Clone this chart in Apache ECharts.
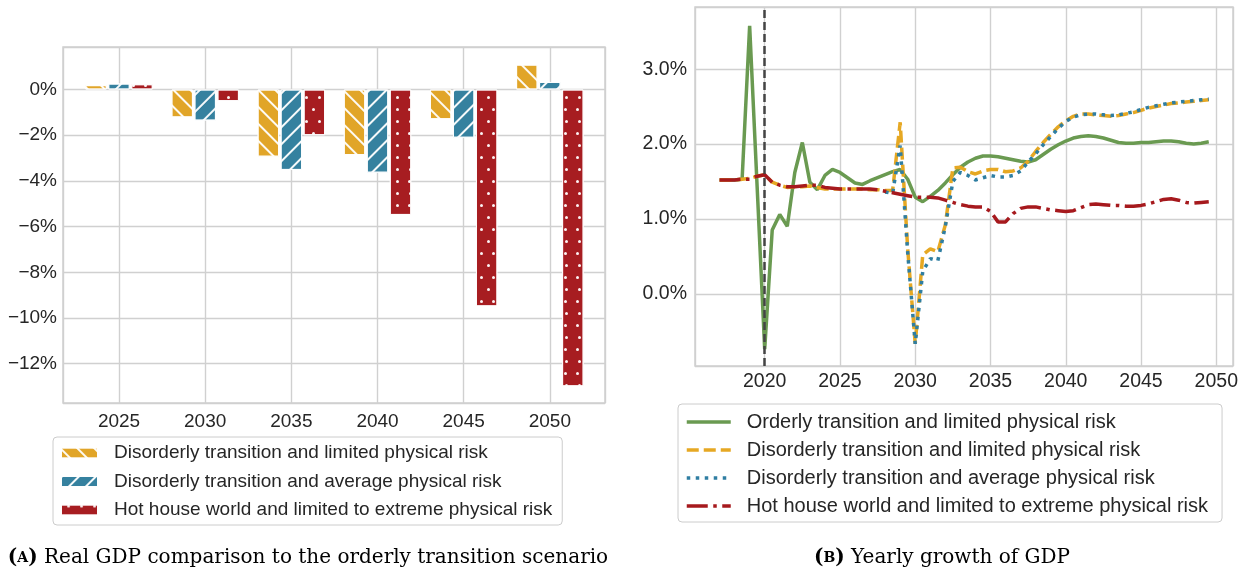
<!DOCTYPE html>
<html>
<head>
<meta charset="utf-8">
<title>GDP scenarios</title>
<script src="https://cdn.jsdelivr.net/npm/echarts@6.0.0/dist/echarts.min.js"></script>
<style>
    html, body { margin: 0; padding: 0; background: #fff; }
    #chart { width: 1247px; height: 574px; }
</style>
</head>
<body>
<div id="chart"></div>
<script>
// Left panel: real GDP vs the orderly transition scenario (%)
const barYears = [2025, 2030, 2035, 2040, 2045, 2050];
const disorderlyLimitedGap = [0.19, -1.22, -2.94, -2.87, -1.30, 1.09];
const disorderlyAverageGap = [0.26, -1.36, -3.52, -3.64, -2.11, 0.33];
const hotHouseGap = [0.23, -0.51, -2.00, -5.49, -9.49, -12.99];

// Right panel: yearly GDP growth (%), half-year points
const growthX = [
    2017, 2017.5, 2018, 2018.5, 2019, 2019.5, 2020, 2020.5, 2021, 2021.5,
    2022, 2022.5, 2023, 2023.5, 2024, 2024.5, 2025, 2025.5, 2026, 2026.5,
    2027, 2027.5, 2028, 2028.5, 2029, 2029.5, 2030, 2030.5, 2031, 2031.5,
    2032, 2032.5, 2033, 2033.5, 2034, 2034.5, 2035, 2035.5, 2036, 2036.5,
    2037, 2037.5, 2038, 2038.5, 2039, 2039.5, 2040, 2040.5, 2041, 2041.5,
    2042, 2042.5, 2043, 2043.5, 2044, 2044.5, 2045, 2045.5, 2046, 2046.5,
    2047, 2047.5, 2048, 2048.5, 2049, 2049.5
];
const orderlyGrowth = [
    1.52, 1.52, 1.52, 1.53, 3.58, 1.42, -0.74, 0.85, 1.06, 0.90,
    1.62, 2.02, 1.49, 1.39, 1.58, 1.66, 1.62, 1.55, 1.48, 1.46,
    1.51, 1.55, 1.59, 1.63, 1.66, 1.53, 1.29, 1.23, 1.30, 1.38,
    1.48, 1.59, 1.69, 1.76, 1.81, 1.84, 1.84, 1.83, 1.81, 1.79,
    1.77, 1.76, 1.79, 1.86, 1.93, 1.99, 2.04, 2.08, 2.10, 2.11,
    2.10, 2.08, 2.05, 2.02, 2.01, 2.01, 2.02, 2.02, 2.03, 2.04,
    2.04, 2.03, 2.01, 2.00, 2.01, 2.03
];
const disorderlyLimitedGrowth = [
    1.52, 1.52, 1.52, 1.53, 1.54, 1.57, 1.59, 1.49, 1.45, 1.42,
    1.43, 1.43, 1.44, 1.42, 1.40, 1.40, 1.40, 1.40, 1.40, 1.40,
    1.39, 1.39, 1.38, 1.38, 2.29, 0.60, -0.67, 0.52, 0.60, 0.56,
    0.92, 1.68, 1.69, 1.63, 1.60, 1.64, 1.66, 1.66, 1.63, 1.64,
    1.68, 1.77, 1.90, 2.02, 2.13, 2.23, 2.31, 2.37, 2.40, 2.40,
    2.39, 2.38, 2.37, 2.38, 2.40, 2.42, 2.45, 2.48, 2.50, 2.52,
    2.54, 2.55, 2.56, 2.57, 2.58, 2.59
];
const disorderlyAverageGrowth = [
    null, null, null, null, null, null, null, null, null, null,
    null, null, null, null, null, null, null, null, null, null,
    null, null, 1.36, 1.34, 1.98, 0.55, -0.67, 0.30, 0.47, 0.44,
    0.90, 1.50, 1.62, 1.58, 1.52, 1.55, 1.58, 1.56, 1.56, 1.58,
    1.64, 1.76, 1.87, 1.99, 2.10, 2.21, 2.30, 2.36, 2.39, 2.40,
    2.40, 2.39, 2.38, 2.39, 2.41, 2.43, 2.46, 2.49, 2.51, 2.53,
    2.55, 2.56, 2.57, 2.58, 2.59, 2.60
];
const hotHouseGrowth = [
    1.52, 1.52, 1.52, 1.53, 1.53, 1.57, 1.59, 1.49, 1.45, 1.43,
    1.43, 1.44, 1.45, 1.45, 1.42, 1.41, 1.40, 1.40, 1.40, 1.40,
    1.40, 1.39, 1.37, 1.35, 1.33, 1.31, 1.29, 1.29, 1.29, 1.28,
    1.25, 1.22, 1.19, 1.17, 1.16, 1.16, 1.10, 0.96, 0.96, 1.07,
    1.14, 1.16, 1.16, 1.14, 1.12, 1.11, 1.10, 1.11, 1.15, 1.19,
    1.20, 1.19, 1.18, 1.18, 1.17, 1.17, 1.18, 1.20, 1.23, 1.26,
    1.27, 1.25, 1.22, 1.21, 1.22, 1.23
];
const shockYear = 2020;

const NAME_OL = 'Orderly transition and limited physical risk';
const NAME_DL = 'Disorderly transition and limited physical risk';
const NAME_DA = 'Disorderly transition and average physical risk';
const NAME_HH = 'Hot house world and limited to extreme physical risk';
// line series get a suffix so the two legends don't share series
const LINE_TAG = ' ·growth';

const SANS = '"Liberation Sans", Arial, sans-serif';
const SERIF = '"DejaVu Serif", "Liberation Serif", serif';
const GRID_COLOR = '#d0d0d0';
const TEXT_COLOR = '#262626';

const YELLOW = '#e1a528';
const BLUE = '#35819f';
const RED = '#a71d21';
const GREEN = '#6a9a51';

const chart = echarts.init(document.getElementById('chart'));

// hatch patterns (white lines / dots on the bars)
const hatchBack = { symbol: 'rect', symbolSize: 1, dashArrayX: [1, 0], dashArrayY: [1.4, 9.2], rotation: Math.PI / 4, color: 'rgba(255,255,255,0.95)' };
const hatchFwd = { symbol: 'rect', symbolSize: 1, dashArrayX: [1, 0], dashArrayY: [1.4, 9.2], rotation: -Math.PI / 4, color: 'rgba(255,255,255,0.95)' };
const dots = { symbol: 'circle', symbolSize: 1, dashArrayX: [[2.2, 8.5], [0, 5.35, 2.2, 3.15]], dashArrayY: [2.2, 8.3], color: 'rgba(255,255,255,0.95)' };

function barSeries(name, values, color, decal) {
    return {
        name: name,
        type: 'bar',
        xAxisIndex: 0,
        yAxisIndex: 0,
        data: barYears.map((y, i) => [y, values[i]]),
        barWidth: 21.5,
        barGap: '7%',
        itemStyle: { color: color, borderColor: 'rgba(255,255,255,0.9)', borderWidth: 1, decal: decal }
    };
}

function lineSeries(name, values, color, dash) {
    return {
        name: name + LINE_TAG,
        type: 'line',
        xAxisIndex: 1,
        yAxisIndex: 1,
        data: growthX.map((x, i) => [x, values[i]]),
        symbol: 'none',
        showSymbol: false,
        connectNulls: false,
        lineStyle: { color: color, width: 3.5, type: dash },
        itemStyle: { color: color }
    };
}

function pct(v) {
    const r = Math.round(v);
    return (r < 0 ? '\u2212' : '') + Math.abs(r) + '%';
}
function pct1(v) {
    const r = Math.abs(v) < 1e-9 ? 0 : v;
    return (r < 0 ? '\u2212' : '') + Math.abs(r).toFixed(1) + '%';
}

const axisCommon = {
    type: 'value',
    axisLine: { show: false },
    axisTick: { show: false },
    splitLine: { show: true, lineStyle: { color: GRID_COLOR, width: 1.4 } }
};

const greenLine = lineSeries(NAME_OL, orderlyGrowth, GREEN, 'solid');
greenLine.markLine = {
    silent: true,
    symbol: 'none',
    label: { show: false },
    lineStyle: { color: '#444444', type: [8, 4], width: 2.5 },
    data: [{ xAxis: shockYear }]
};

const captionRich = {
    b: { fontSize: 20, fontFamily: SERIF, fontWeight: 'bold', fill: '#000' },
    s: { fontSize: 14, fontFamily: SERIF, fontWeight: 'bold', fill: '#000' }
};

const option = {
    animation: false,
    backgroundColor: '#ffffff',
    grid: [
        { left: 63, top: 47, width: 542, height: 356, show: true, borderColor: GRID_COLOR, borderWidth: 1.5, backgroundColor: '#fff', outerBoundsMode: 'none' },
        { left: 695, top: 7, width: 538, height: 359, show: true, borderColor: GRID_COLOR, borderWidth: 1.5, backgroundColor: '#fff', outerBoundsMode: 'none' }
    ],
    xAxis: [
        Object.assign({}, axisCommon, {
            gridIndex: 0, min: 2021.75, max: 2053.2, splitNumber: 6,
            axisLabel: { showMinLabel: false, showMaxLabel: false, margin: 9, color: TEXT_COLOR, fontSize: 19, fontFamily: SANS, formatter: v => String(Math.round(v)) }
        }),
        Object.assign({}, axisCommon, {
            gridIndex: 1, min: 2015.37, max: 2051.11, splitNumber: 7,
            axisLabel: { showMinLabel: false, showMaxLabel: false, margin: 6, color: TEXT_COLOR, fontSize: 19.5, fontFamily: SANS, formatter: v => String(Math.round(v)) }
        })
    ],
    yAxis: [
        Object.assign({}, axisCommon, {
            gridIndex: 0, min: -13.72, max: 1.86, splitNumber: 8,
            axisLabel: { showMinLabel: false, showMaxLabel: false, margin: 6, color: TEXT_COLOR, fontSize: 19, fontFamily: SANS, formatter: pct }
        }),
        Object.assign({}, axisCommon, {
            gridIndex: 1, min: -0.965, max: 3.83, splitNumber: 5,
            axisLabel: { showMinLabel: false, showMaxLabel: false, margin: 8, color: TEXT_COLOR, fontSize: 19.5, fontFamily: SANS, formatter: pct1 }
        })
    ],
    legend: [
        {
            orient: 'vertical',
            left: 53, top: 437,
            data: [NAME_DL, NAME_DA, NAME_HH],
            icon: 'rect',
            itemWidth: 37, itemHeight: 11, itemGap: 8.5,
            padding: [6, 10, 5, 7],
            borderColor: '#cccccc', borderWidth: 1, borderRadius: 4,
            backgroundColor: '#fff',
            selectedMode: false,
            textStyle: { color: TEXT_COLOR, fontSize: 19, fontFamily: SANS, lineHeight: 20, padding: [0, 0, 0, 11] }
        },
        {
            orient: 'vertical',
            left: 678, top: 404,
            data: [NAME_OL, NAME_DL, NAME_DA, NAME_HH].map(n => n + LINE_TAG),
            itemWidth: 44, itemHeight: 14, itemGap: 8,
            padding: [8, 14, 6, 7],
            borderColor: '#cccccc', borderWidth: 1, borderRadius: 4,
            backgroundColor: '#fff',
            selectedMode: false,
            itemStyle: { opacity: 0 },
            lineStyle: { width: 3.5 },
            formatter: n => n.replace(LINE_TAG, ''),
            textStyle: { color: TEXT_COLOR, fontSize: 20, fontFamily: SANS, lineHeight: 20, padding: [0, 0, 0, 11] }
        }
    ],
    series: [
        barSeries(NAME_DL, disorderlyLimitedGap, YELLOW, hatchBack),
        barSeries(NAME_DA, disorderlyAverageGap, BLUE, hatchFwd),
        barSeries(NAME_HH, hotHouseGap, RED, dots),
        greenLine,
        lineSeries(NAME_DL, disorderlyLimitedGrowth, '#e6a823', [12, 5]),
        lineSeries(NAME_DA, disorderlyAverageGrowth, '#2f7ea2', [3.5, 5.5]),
        lineSeries(NAME_HH, hotHouseGrowth, '#a6191d', [21, 5.5, 3.5, 5.5])
    ],
    graphic: [
        {
            type: 'text', x: 308, y: 558,
            style: {
                text: '{b|(}{s|A}{b|)} Real GDP comparison to the orderly transition scenario',
                fontSize: 20, fontFamily: SERIF, fill: '#000',
                align: 'center', verticalAlign: 'middle',
                rich: captionRich
            }
        },
        {
            type: 'text', x: 942, y: 558,
            style: {
                text: '{b|(}{s|B}{b|)} Yearly growth of GDP',
                fontSize: 20, fontFamily: SERIF, fill: '#000',
                align: 'center', verticalAlign: 'middle',
                rich: captionRich
            }
        }
    ]
};

chart.setOption(option);
</script>
</body>
</html>
